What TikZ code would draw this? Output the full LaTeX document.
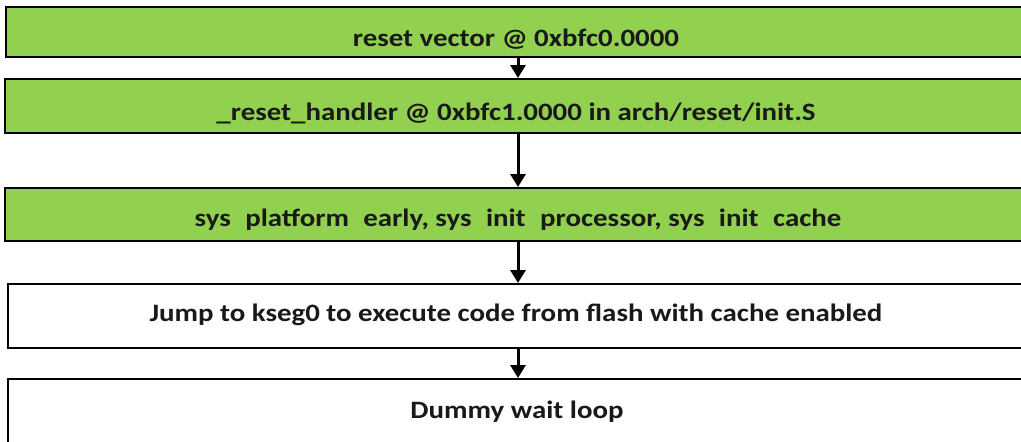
\documentclass[tikz,border=0pt]{standalone}
\usepackage{fontspec}
\setmainfont{Carlito}
\usetikzlibrary{arrows.meta}
\definecolor{boxgreen}{HTML}{92D050}
\tikzset{
  box/.style={draw=black, line width=2pt, rectangle, inner sep=0pt},
  greenbox/.style={box, fill=boxgreen},
  whitebox/.style={box, fill=white},
  txt/.style={inner sep=0pt, anchor=base, font=\fontsize{25}{30}\selectfont\bfseries, text=black!90, xscale=1.155, transform shape},
  arr/.style={line width=3pt, -{Triangle[width=15pt,length=13pt]}}
}
\newcommand{\ws}{\hspace{0.5em}}
\begin{document}
\begin{tikzpicture}[x=1pt,y=-1pt]
\useasboundingbox (0,0) rectangle (1021,442);
\clip (0,0) rectangle (1021,442);
\node[greenbox, minimum width=1024pt, minimum height=50pt] (b1) at (518,32) {};
\node[greenbox, minimum width=1026pt, minimum height=54pt] (b2) at (518,106) {};
\node[greenbox, minimum width=1026pt, minimum height=53pt] (b3) at (518,214.5) {};
\node[whitebox, minimum width=1020pt, minimum height=64pt] (b4) at (518,316) {};
\node[whitebox, minimum width=1020pt, minimum height=80pt] (b5) at (518,419) {};
\node[txt] (t1) at (516,46) {reset vector @ 0xbfc0.0000};
\node[txt] (t2) at (516,120) {\_reset\_handler @ 0xbfc1.0000 in arch/reset/init.S};
\node[txt] (t3) at (518,226) {sys\ws platform\ws early, sys\ws init\ws processor, sys\ws init\ws cache};
\node[txt] (t4) at (516,321) {Jump to kseg0 to execute code from flash with cache enabled};
\node[txt] (t5) at (517,418) {Dummy wait loop};
\draw[arr] (b1.south) -- (b2.north);
\draw[arr] (b2.south) -- (b3.north);
\draw[arr] (b3.south) -- (b4.north);
\draw[arr] (b4.south) -- (b5.north);
\end{tikzpicture}
\end{document}
